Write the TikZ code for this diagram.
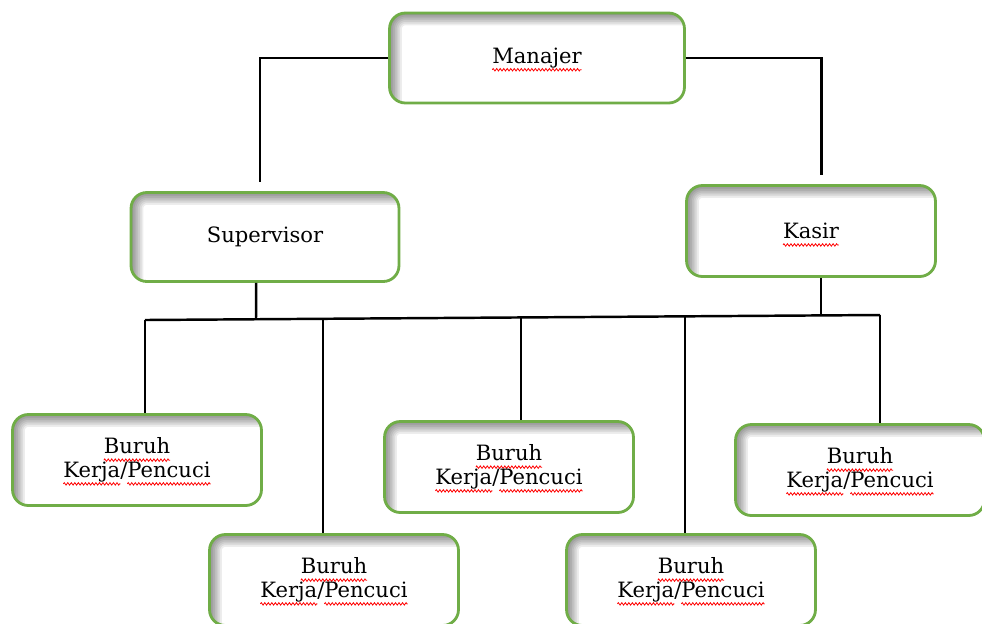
\documentclass[tikz,border=0pt]{standalone}
\usepackage{fontspec}
\usepackage{tikz}
\usetikzlibrary{decorations.pathmorphing}
\setmainfont{DejaVu Serif}
\definecolor{boxgreen}{HTML}{70AD47}
\newsavebox{\sqbox}
\newcommand{\sq}[1]{\leavevmode\sbox{\sqbox}{#1}\edef\sqw{\the\wd\sqbox}%
  \rlap{#1}%
  \tikz[baseline=0pt]{\useasboundingbox (0pt,0pt) rectangle (\sqw,0pt);
    \draw[red, line width=0.45pt, sharp corners, fill=none, decorate,
      decoration={zigzag, amplitude=0.7pt, segment length=2pt}]
      (0pt,-3.6pt) -- (\sqw,-3.6pt);}}
\tikzset{
  unit/.style={draw=boxgreen, line width=1.6pt, rounded corners=9pt, fill=white,
    minimum width=4.98cm, minimum height=1.82cm, align=center,
    font=\fontsize{12}{13.5}\selectfont,
    path picture={
      \foreach \w in {2,4,...,14}
        \draw[black, opacity=0.07, line width=\w pt, rounded corners=9pt]
          ([yshift=-12pt]path picture bounding box.south west)
          |- ([xshift=12pt]path picture bounding box.north east);
    }},
  link/.style={line width=1.4pt, black},
}

\begin{document}
\begin{tikzpicture}[x=0.02cm, y=-0.02cm]
  \useasboundingbox (0,0) rectangle (982,623);

  % top
  \node[unit, minimum width=5.9cm, minimum height=1.8cm] (man) at (537,58) {\sq{Manajer}};
  \node[unit, minimum width=5.36cm, minimum height=1.78cm] (sup) at (265,237) {Supervisor};
  \node[unit] (kas) at (811,231) {\sq{Kasir}};

  % workers
  \node[unit] (b1) at (137,460) {\sq{Buruh}\\ \sq{Kerja}/\sq{Pencuci}};
  \node[unit] (b2) at (334,580) {\sq{Buruh}\\ \sq{Kerja}/\sq{Pencuci}};
  \node[unit] (b3) at (509,467) {\sq{Buruh}\\ \sq{Kerja}/\sq{Pencuci}};
  \node[unit] (b4) at (691,580) {\sq{Buruh}\\ \sq{Kerja}/\sq{Pencuci}};
  \node[unit] (b5) at (860,470) {\sq{Buruh}\\ \sq{Kerja}/\sq{Pencuci}};

  % bus
  \coordinate (bl) at (145,320);
  \coordinate (d2) at (323,319);
  \coordinate (ds) at (256,319.5);
  \coordinate (d3) at (521,317.5);
  \coordinate (d4) at (685,316.5);
  \coordinate (dk) at (821,315.5);
  \coordinate (br) at (880,315);

  \draw[link, shorten >=5pt] (man.west) -| ([xshift=-3pt]sup.north);
  \draw[link, shorten >=5pt] (man.east) -| ([xshift=6pt]kas.north);
  \draw[link] ([xshift=-5pt]sup.south) -- (ds);
  \draw[link] (kas.south -| dk) -- (dk);
  \draw[link] (bl) -- (br);
  \draw[link] (bl) -- (bl |- b1.north);
  \draw[link] (d2) -- (d2 |- b2.north);
  \draw[link] (d3) -- (d3 |- b3.north);
  \draw[link] (d4) -- (d4 |- b4.north);
  \draw[link] (br) -- (br |- b5.north);
\end{tikzpicture}
\end{document}
